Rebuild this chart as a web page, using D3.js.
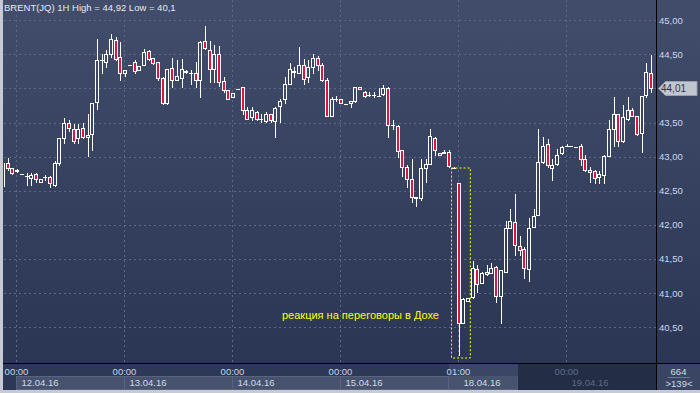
<!DOCTYPE html>
<html>
<head>
<meta charset="utf-8">
<script src="https://cdn.jsdelivr.net/npm/d3@7"></script>
<style>
html, body { margin: 0; padding: 0; background: #c6cad2; }
svg { display: block; }
text { font-family: "Liberation Sans", Arial, sans-serif; }
</style>
</head>
<body>
<div id="chart"></div>
<script>
// BRENT(JQ) 1H candles, 11.04 (tail) .. 19.04.16
const opens = [42.57,42.91,42.83,42.79,42.74,42.71,42.68,42.74,42.63,42.70,42.70,42.59,42.90,43.27,43.49,43.40,43.27,43.42,43.29,43.33,
	43.80,44.41,44.39,44.50,44.71,44.46,44.22,44.34,44.38,44.27,44.35,44.55,44.44,44.38,44.15,43.78,44.30,44.13,44.15,44.26,
	44.23,44.23,44.12,44.69,44.57,44.29,44.51,44.11,43.98,43.87,43.99,44.02,43.68,43.58,43.66,43.55,43.52,43.62,43.52,43.74,
	43.84,44.07,44.26,44.22,44.35,44.17,44.32,44.44,44.35,44.13,43.60,43.85,43.84,43.77,43.79,43.82,44.02,43.95,43.90,43.90,
	43.89,43.92,44.00,43.46,43.45,43.09,42.85,42.67,42.40,42.40,42.83,42.89,43.28,43.06,43.05,43.07,42.84,42.62,40.56,40.89,
	40.94,41.35,41.15,41.31,41.29,41.38,40.96,41.31,41.95,42.04,41.69,41.65,41.35,41.97,42.15,42.92,43.18,42.84,42.89,43.05,
	43.15,43.15,43.14,43.16,42.96,42.77,42.79,42.70,42.73,43.01,43.40,43.62,43.23,43.55,43.68,43.59,43.35,43.90,44.23];
const highs = [42.91,42.98,42.83,42.82,42.75,42.76,42.76,42.76,42.67,42.73,42.71,42.93,43.27,43.57,43.54,43.48,43.48,43.49,43.62,43.78,
	44.72,44.51,44.57,44.80,44.76,44.68,44.27,44.34,44.42,44.33,44.58,44.56,44.45,44.39,44.17,44.29,44.44,44.42,44.43,44.27,
	44.27,44.38,44.70,44.92,44.70,44.64,44.62,44.16,43.98,43.93,43.99,44.02,43.72,43.72,43.67,43.63,43.65,43.63,43.72,43.84,
	44.16,44.37,44.32,44.60,44.43,44.42,44.50,44.47,44.37,44.15,43.88,43.89,43.84,43.77,43.82,44.02,44.02,43.96,43.94,43.94,
	44.00,44.05,44.02,43.53,43.46,43.10,42.87,42.97,42.41,42.97,42.97,43.40,43.29,43.06,43.10,43.10,42.85,42.62,40.93,40.93,
	41.47,41.41,41.31,41.41,41.44,41.39,41.34,42.05,42.23,42.45,41.83,41.68,42.10,42.23,43.40,43.29,43.26,42.97,43.11,43.16,
	43.18,43.15,43.14,43.18,43.02,42.85,42.80,42.79,43.02,43.54,43.87,43.63,43.76,43.87,43.71,43.60,43.89,44.37,44.49];
const lows = [42.57,42.80,42.74,42.77,42.74,42.59,42.59,42.63,42.63,42.66,42.56,42.57,42.88,43.20,43.37,43.20,43.20,43.27,43.01,43.10,
	43.70,44.22,44.32,44.46,44.42,44.12,44.18,44.34,44.22,44.27,44.34,44.42,44.36,44.12,43.77,43.77,44.02,44.12,44.02,44.23,
	44.06,44.02,43.88,44.58,44.10,44.10,44.04,43.95,43.85,43.87,43.99,43.62,43.55,43.54,43.54,43.51,43.51,43.51,43.29,43.51,
	43.78,44.06,44.16,44.22,44.06,44.10,44.23,44.27,44.11,43.59,43.59,43.81,43.79,43.77,43.73,43.80,43.99,43.88,43.89,43.88,
	43.89,43.90,43.29,43.40,43.00,42.72,42.56,42.34,42.28,42.36,42.63,42.89,43.02,43.03,43.05,42.85,42.83,40.09,40.56,40.89,
	40.93,41.02,41.15,41.26,41.29,40.87,40.56,41.31,41.95,41.56,41.56,41.22,41.18,41.97,42.15,42.90,42.85,42.65,42.88,43.04,
	43.15,43.15,43.14,42.88,42.79,42.63,42.61,42.61,42.61,43.01,43.15,43.15,43.22,43.54,43.59,43.32,43.07,43.88,43.95];
const closes = [42.91,42.83,42.76,42.80,42.74,42.71,42.73,42.67,42.67,42.70,42.61,42.90,43.27,43.50,43.42,43.23,43.40,43.29,43.32,43.78,
	44.41,44.42,44.50,44.72,44.43,44.22,44.27,44.34,44.25,44.33,44.53,44.43,44.37,44.15,43.78,44.29,44.12,44.18,44.28,44.24,
	44.23,44.12,44.68,44.59,44.28,44.50,44.10,43.98,43.85,43.93,43.99,43.68,43.55,43.68,43.55,43.55,43.62,43.54,43.71,43.82,
	44.06,44.28,44.24,44.34,44.14,44.32,44.45,44.34,44.12,43.60,43.84,43.85,43.79,43.77,43.82,44.02,43.99,43.89,43.90,43.90,
	43.89,44.01,43.46,43.46,43.08,42.85,42.67,42.41,42.41,42.83,42.89,43.30,43.09,43.03,43.07,42.86,42.84,40.56,40.91,40.93,
	41.37,41.13,41.29,41.28,41.36,40.95,41.33,41.96,42.05,41.70,41.63,41.36,41.95,42.13,42.92,43.15,42.87,42.88,43.02,43.14,
	43.16,43.15,43.14,42.96,42.80,42.81,42.68,42.74,43.01,43.40,43.62,43.23,43.58,43.68,43.60,43.33,43.89,44.24,44.01];

// axis labels
const priceTicks = [40.5, 41, 41.5, 42, 42.5, 43, 43.5, 44, 44.5, 45];
const dayIndex = [3, 26, 49, 72, 97, 120];
const timeLabels = ["00:00", "00:00", "00:00", "00:00", "01:00", "00:00"];
const boxIndex = [3, 26, 49, 72, 95];
const dateLabels = ["12.04.16", "13.04.16", "14.04.16", "15.04.16", "18.04.16", "19.04.16"];
const titleText = "BRENT(JQ) 1H High = 44,92 Low = 40,1";
const noteText = "реакция на переговоры в Дохе";

const W = 700, H = 393;
const plotLeft = 4, plotRight = 656.5, plotBottom = 363.5;
const N = closes.length;

let svg = d3.select("#chart").append("svg")
	.attr("width", W)
	.attr("height", H);

let defs = svg.append("defs");
let grad = defs.append("linearGradient")
	.attr("id", "bg")
	.attr("x1", 0).attr("y1", 0).attr("x2", 0).attr("y2", 1);
grad.append("stop").attr("offset", "0%").attr("stop-color", "#414d6a");
grad.append("stop").attr("offset", "100%").attr("stop-color", "#2b3655");

defs.append("clipPath").attr("id", "plotClip")
	.append("rect")
	.attr("x", plotLeft).attr("y", 0)
	.attr("width", plotRight - plotLeft).attr("height", plotBottom);

// frame
svg.append("rect").attr("width", W).attr("height", H).attr("fill", "#c6cad2");
svg.append("rect")
	.attr("x", 3).attr("y", 0)
	.attr("width", W - 3).attr("height", 390)
	.attr("fill", "#2d3957");
svg.append("rect")
	.attr("x", 3).attr("y", 0)
	.attr("width", W - 3).attr("height", plotBottom)
	.attr("fill", "url(#bg)");

let x = d3.scaleLinear().domain([0, N - 1]).range([3.6, 651.6]);
let y = d3.scaleLinear().domain([40.5, 45]).range([327.1, 20.2]);

let px = function(i) {return Math.floor(x(i)) + 0.5};
let py = function(v) {return Math.round(y(v)) + 0.5};

// grid
let grid = svg.append("g").attr("clip-path", "url(#plotClip)");
grid.selectAll("line.h").data(priceTicks).enter().append("line")
	.attr("x1", plotLeft).attr("x2", plotRight)
	.attr("y1", function(d) {return py(d)})
	.attr("y2", function(d) {return py(d)})
	.attr("stroke", "#5b6989")
	.attr("stroke-dasharray", "2,3");
grid.selectAll("line.v").data(dayIndex).enter().append("line")
	.attr("x1", function(d) {return px(d) - 1})
	.attr("x2", function(d) {return px(d) - 1})
	.attr("y1", 0).attr("y2", plotBottom)
	.attr("stroke", "#5b6989")
	.attr("stroke-dasharray", "2,3");

// candles
let candles = svg.append("g").attr("clip-path", "url(#plotClip)")
	.selectAll("g").data(d3.range(N)).enter().append("g");

candles.each(function(i) {
	let g = d3.select(this);
	let cx = px(i);
	let top = py(Math.max(opens[i], closes[i]));
	let bot = py(Math.min(opens[i], closes[i]));
	let up = closes[i] >= opens[i];
	g.append("line")
		.attr("x1", cx).attr("x2", cx)
		.attr("y1", py(highs[i]) - 0.5).attr("y2", top)
		.attr("stroke", "#fff");
	g.append("line")
		.attr("x1", cx).attr("x2", cx)
		.attr("y1", bot).attr("y2", py(lows[i]) + 0.5)
		.attr("stroke", "#fff");
	if (bot - top < 1) {
		g.append("line")
			.attr("x1", cx - 2.5).attr("x2", cx + 1.5)
			.attr("y1", top).attr("y2", top)
			.attr("stroke", "#fff");
	} else {
		g.append("rect")
			.attr("x", cx - 2).attr("y", top)
			.attr("width", 3).attr("height", bot - top)
			.attr("fill", up ? "none" : "#e0123f")
			.attr("stroke", "#fff");
	}
});

// annotation
let noteBox = [95.5, 99.5];
svg.append("rect")
	.attr("x", x(noteBox[0]) - 0.5)
	.attr("y", py(42.83) - 0.5)
	.attr("width", x(noteBox[1]) - x(noteBox[0]))
	.attr("height", py(40.09) - py(42.83) + 3)
	.attr("fill", "none")
	.attr("stroke", "#ffff00")
	.attr("stroke-dasharray", "2,2");
svg.append("text")
	.attr("x", 282)
	.attr("y", 318.5)
	.style("font-size", "11px")
	.attr("fill", "#ffff00")
	.text(noteText);

// title
svg.append("text")
	.attr("x", 4).attr("y", 11)
	.style("font-size", "9.5px")
	.attr("fill", "#e6e9f0")
	.text(titleText);

// right price axis
let last = closes[N - 1];
let ly = py(last);

let yAxis = svg.append("g")
	.attr("transform", "translate(" + plotRight + ",0)")
	.call(d3.axisRight(y).tickValues(priceTicks).tickSize(0).tickPadding(2.5)
		.tickFormat(function(d) {return d.toFixed(2).replace(".", ",")}));
yAxis.select(".domain").remove();
// the last-price marker hides the tick label under it
yAxis.selectAll(".tick").filter(function(d) {return Math.abs(y(d) - ly) < 10}).remove();
yAxis.selectAll("text")
	.style("font-size", "9.5px")
	.style("font-family", "Liberation Sans, Arial, sans-serif")
	.attr("fill", "#d0d6e4");

// last price marker
svg.append("path")
	.attr("d", "M" + (plotRight + 2) + "," + ly + "L" + (plotRight + 9) + "," + (ly - 7) +
		"L697," + (ly - 7) + "L697," + (ly + 7) + "L" + (plotRight + 9) + "," + (ly + 7) + "Z")
	.attr("fill", "#c2c6ce")
	.attr("stroke", "#98a0ae");
svg.append("text")
	.attr("x", 661).attr("y", ly + 3.5)
	.style("font-size", "10px")
	.attr("fill", "#2c3650")
	.text(last.toFixed(2).replace(".", ","));

// bottom axis panels
let bottom = svg.append("g");
bottom.append("rect")
	.attr("x", 3).attr("y", plotBottom)
	.attr("width", plotRight - 3).attr("height", 390 - plotBottom)
	.attr("fill", "#2c3855");
bottom.selectAll("rect.day").data(boxIndex).enter().append("rect")
	.attr("x", function(d) {return px(d) - 1})
	.attr("y", 376.5)
	.attr("width", function(d, i) {
		let next = i < boxIndex.length - 1 ? px(boxIndex[i + 1]) - 1 : 518;
		return next - px(d) + 1;
	})
	.attr("height", 13)
	.attr("fill", "#47536e")
	.attr("stroke", "#58637e");
bottom.append("rect")
	.attr("x", 449).attr("y", plotBottom)
	.attr("width", 69).attr("height", 13)
	.attr("fill", "#3a4663");
bottom.append("rect")
	.attr("x", 518).attr("y", plotBottom)
	.attr("width", plotRight - 518).attr("height", 390 - plotBottom)
	.attr("fill", "#242d46");

let xAxis = svg.append("g")
	.attr("transform", "translate(0," + plotBottom + ")")
	.call(d3.axisBottom(x).tickValues(dayIndex).tickSize(0).tickPadding(4.5)
		.tickFormat(function(d, i) {return timeLabels[i]}));
xAxis.select(".domain").remove();
xAxis.selectAll(".tick").attr("transform", function(d) {return "translate(" + (px(d) - 1) + ",0)"});
xAxis.selectAll("text")
	.style("font-size", "9.5px")
	.style("font-family", "Liberation Sans, Arial, sans-serif")
	.attr("fill", function(d, i) {return i == dayIndex.length - 1 ? "#5f6b87" : "#c9d4ec"});

bottom.selectAll("text.date").data(dayIndex).enter().append("text")
	.attr("x", function(d) {return px(d) + 4})
	.attr("y", 385.5)
	.style("font-size", "9.5px")
	.attr("fill", function(d, i) {return i == dayIndex.length - 1 ? "#5f6b87" : "#d3d9e6"})
	.text(function(d, i) {return dateLabels[i]});

// corner box
svg.append("rect")
	.attr("x", plotRight).attr("y", plotBottom)
	.attr("width", W - plotRight).attr("height", 390 - plotBottom)
	.attr("fill", "#3a4563");
svg.append("line")
	.attr("x1", 668).attr("x2", 690).attr("y1", 377.5).attr("y2", 377.5)
	.attr("stroke", "#6d7892");
svg.append("text")
	.attr("x", 678.5).attr("y", 374.5)
	.attr("text-anchor", "middle")
	.style("font-size", "9.5px")
	.attr("fill", "#d3d9e6")
	.text("664");
svg.append("text")
	.attr("x", 679).attr("y", 387)
	.attr("text-anchor", "middle")
	.style("font-size", "9.5px")
	.attr("fill", "#d3d9e6")
	.text(">" + N + "<");

// separators
svg.append("line")
	.attr("x1", plotRight).attr("x2", plotRight).attr("y1", 0).attr("y2", 390)
	.attr("stroke", "#000");
svg.append("line")
	.attr("x1", 3).attr("x2", W).attr("y1", plotBottom).attr("y2", plotBottom)
	.attr("stroke", "#000");
</script>
</body>
</html>
